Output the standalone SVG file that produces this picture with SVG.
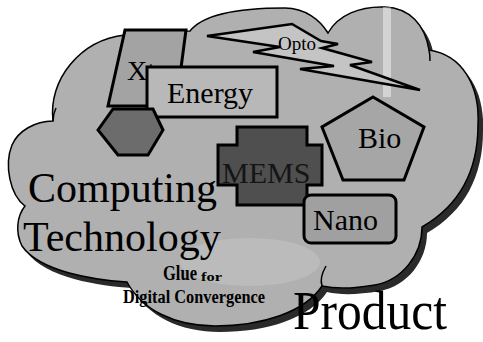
<svg xmlns="http://www.w3.org/2000/svg" width="483" height="342" viewBox="0 0 483 342">
<style>
.serif{font-family:"Liberation Serif","Times New Roman",serif;fill:#000}
.b{font-weight:bold}
.shape{stroke:#000;stroke-width:3;stroke-linejoin:miter}
.thin{fill:none;stroke:#000;stroke-width:1.5}
</style>
<defs>
<path id="cloudPath" d="M53,121 C48,80 80,40 125,35 C150,32 175,31 190,31 C205,12 250,8 285,8 C305,8 320,20 328,33 C338,15 360,6 385,7 C410,8 425,25 429,50 C462,55 480,85 478,125 C478,170 460,205 422,227 C422,255 402,280 375,285 C352,289 335,289 322,286 C305,312 262,326 215,326 C175,326 142,310 127,282 C95,280 40,272 22,246 C15,232 17,216 25,206 C10,195 4,165 12,145 C18,131 35,121 53,121 Z"/>
<clipPath id="cloudClip"><use href="#cloudPath"/></clipPath>
</defs>
<rect width="483" height="342" fill="#fff"/>
<g id="cloud">
<use href="#cloudPath" transform="translate(5,6)" fill="#2a2a2a"/>
<use href="#cloudPath" fill="#b0b0b0" stroke="#000" stroke-width="1.5"/>
<g clip-path="url(#cloudClip)">
<rect x="383" y="5" width="8" height="92" fill="#fff" opacity="0.45"/>
<ellipse cx="250" cy="262" rx="70" ry="24" fill="#fff" opacity="0.15"/>
</g>
<path class="thin" d="M53,121 C53,116 54,112 56,108"/>
<path class="thin" d="M429,50 C430,54 430,57 430,61"/>
<path class="thin" d="M322,286 C320,280 322,273 326,266"/>
</g>
<g id="node-x">
<polygon class="shape" points="125,30 186,30 176,106 108,106" fill="#a3a3a3"/>
<text class="serif" x="127" y="80" font-size="28">Xt</text>
</g>
<g id="node-energy">
<rect class="shape" x="147" y="67" width="130" height="50" fill="#b8b8b8"/>
<text class="serif" x="167" y="103" font-size="30">Energy</text>
</g>
<g id="node-hex">
<polygon class="shape" points="98,130 113,109 153,109 163,130 148,155 118,155" fill="#6c6c6c" stroke-width="2"/>
</g>
<g id="node-opto">
<polygon points="207,36 292,24 321,41 338,44 322,48 372,62 350,65 420,90 300,69 334,66 253,52 280,47" fill="#c4c4c4" stroke="#000" stroke-width="2.5" stroke-linejoin="miter"/>
<text class="serif" x="278" y="50" font-size="19">Opto</text>
</g>
<g id="node-bio">
<polygon class="shape" points="373,97 424,127 404,180 343,180 322,127" fill="#a6a6a6"/>
<text class="serif" x="358" y="148" font-size="30">Bio</text>
</g>
<g id="node-mems">
<path class="shape" d="M237,127 H307 V145 H322 V185 H307 V205 H237 V185 H218 V145 H237 Z" fill="#4f4f4f"/>
<text class="serif" x="222" y="183" font-size="30" style="fill:#151515">MEMS</text>
</g>
<g id="node-nano">
<rect class="shape" x="304" y="195" width="92" height="48" rx="7" fill="#a0a0a0"/>
<text class="serif" x="313" y="230" font-size="30">Nano</text>
</g>
<g id="labels">
<text class="serif" x="28" y="202" font-size="42">Computing</text>
<text class="serif" x="23" y="251" font-size="42">Technology</text>
<text class="serif b" x="163" y="280" font-size="21" textLength="34" lengthAdjust="spacingAndGlyphs">Glue</text>
<text class="serif b" x="201" y="281" font-size="13" textLength="21" lengthAdjust="spacingAndGlyphs">for</text>
<text class="serif b" x="123" y="303" font-size="18" textLength="142" lengthAdjust="spacingAndGlyphs">Digital Convergence</text>
<text class="serif" x="293" y="329" font-size="54" textLength="154" lengthAdjust="spacingAndGlyphs">Product</text>
</g>
</svg>
